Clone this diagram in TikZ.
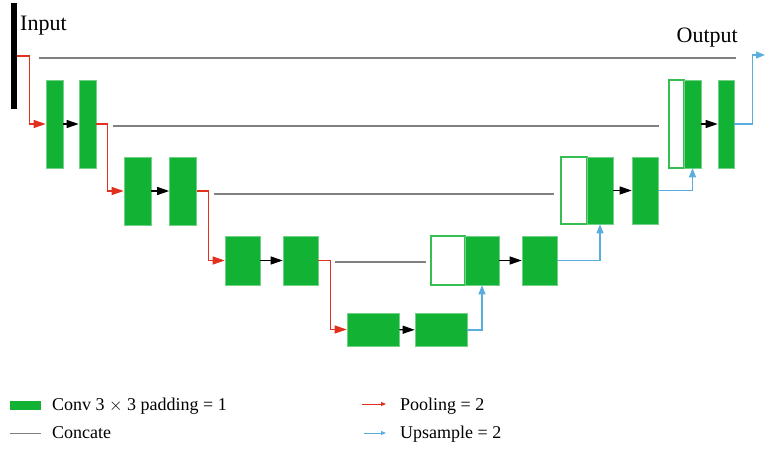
\documentclass[tikz,border=0pt]{standalone}
\usepackage{fontspec}
\setmainfont{Liberation Serif}
\usepackage{tikz}
\usetikzlibrary{arrows.meta}
\definecolor{convgreen}{RGB}{18,178,52}
\definecolor{poolred}{RGB}{226,48,30}
\definecolor{upblue}{RGB}{90,174,222}
\definecolor{catgray}{RGB}{128,128,128}

\begin{document}
\begin{tikzpicture}[x=1pt,y=-1pt,
  conv/.style={draw=convgreen!60!white,line width=0.6pt,fill=convgreen,inner sep=0pt},
  skip/.style={draw=convgreen!85!white,line width=1.3pt,fill=white,inner sep=0pt},
  pool/.style={poolred,line width=1.1pt,-{Triangle[length=12pt,width=8pt]}},
  up/.style={upblue,line width=1.1pt,-{Triangle[length=9pt,width=7pt]}},
  fwd/.style={black,line width=1.1pt,-{Triangle[length=12pt,width=8pt]}},
  cat/.style={catgray,line width=1.4pt},
  txt/.style={font=\fontsize{18}{20}\selectfont,inner sep=0pt},
  bigtxt/.style={font=\fontsize{22}{24}\selectfont,inner sep=0pt}]
\useasboundingbox (0,0) rectangle (765,449);
\node[fill=black,inner sep=0pt,minimum width=6,minimum height=106] (inp) at (14,56) {};
\node[bigtxt,anchor=base west] (intext) at (20,31) {Input};
\node[bigtxt,anchor=base east] (outtext) at (738,43) {Output};
\node[conv,minimum width=17,minimum height=88] (e1a) at (54.5,124) {};
\node[conv,minimum width=17,minimum height=88] (e1b) at (87.5,124) {};
\node[conv,minimum width=27,minimum height=68] (e2a) at (137.5,191) {};
\node[conv,minimum width=27,minimum height=68] (e2b) at (183,191) {};
\node[conv,minimum width=35,minimum height=49] (e3a) at (242.5,260.5) {};
\node[conv,minimum width=35,minimum height=49] (e3b) at (300.5,260.5) {};
\node[conv,minimum width=52,minimum height=33] (b4a) at (373,329.5) {};
\node[conv,minimum width=52,minimum height=33] (b4b) at (441,330) {};
\node[skip,minimum width=34,minimum height=49] (d3w) at (448,260.5) {};
\node[conv,minimum width=34,minimum height=49] (d3g) at (482,260.5) {};
\node[conv,minimum width=35,minimum height=49] (d3b) at (539.5,260.5) {};
\node[skip,minimum width=26,minimum height=67] (d2w) at (574,190.5) {};
\node[conv,minimum width=26,minimum height=67] (d2g) at (600,190.5) {};
\node[conv,minimum width=26,minimum height=67] (d2b) at (645,190.5) {};
\node[skip,minimum width=15,minimum height=88] (d1w) at (676.5,124) {};
\node[conv,minimum width=17,minimum height=88] (d1g) at (692.5,124) {};
\node[conv,minimum width=16,minimum height=88] (d1b) at (726,124) {};
\coordinate (out) at (765,55);
\draw[cat] ([shift={(22,2)}]inp.east) -- ([shift={(2,-66)}]d1b.east);
\draw[cat] ([shift={(17,2)}]e1b.east) -- ([shift={(-9,2)}]d1w.west);
\draw[cat] ([shift={(17,3)}]e2b.east) -- ([shift={(-6,3.5)}]d2w.west);
\draw[cat] ([shift={(17,1.5)}]e3b.east) -- ([shift={(-4,1.5)}]d3w.west);
\draw[pool] (inp.east) -- ++(12,0) |- (e1a.west);
\draw[pool] (e1b.east) -- ++(11,0) |- (e2a.west);
\draw[pool] (e2b.east) -- ++(12,0) |- (e3a.west);
\draw[pool] (e3b.east) -- ++(12,0) |- (b4a.west);
\draw[fwd] (e1a) -- (e1b);
\draw[fwd] (e2a) -- (e2b);
\draw[fwd] (e3a) -- (e3b);
\draw[fwd] (b4a) -- (b4b);
\draw[fwd] (d3g) -- (d3b);
\draw[fwd] (d2g) -- (d2b);
\draw[fwd] (d1g) -- (d1b);
\draw[up] (b4b.east) -| (d3g.south);
\draw[up] (d3b.east) -| (d2g.south);
\draw[up] (d2b.east) -| (d1g.south);
\draw[up] (d1b.east) -- ++(18,0) |- (out);
\node[fill=convgreen,inner sep=0pt,minimum width=31,minimum height=9] (lconv) at (25.5,405.5) {};
\node[txt,anchor=base west] (tconv) at (52,410) {Conv 3 $\times$ 3 padding = 1};
\coordinate (lcat1) at (10,433);
\coordinate (lcat2) at (41,433);
\draw[cat,line width=1pt] (lcat1) -- (lcat2);
\node[txt,anchor=base west] (tcat) at (52,438) {Concate};
\coordinate (lpool1) at (362,404);
\coordinate (lpool2) at (386,404);
\draw[poolred,line width=0.9pt,-{Triangle[length=5pt,width=4pt]}] (lpool1) -- (lpool2);
\node[txt,anchor=base west] (tpool) at (400,410) {Pooling = 2};
\coordinate (lup1) at (364,433);
\coordinate (lup2) at (386,433);
\draw[upblue,line width=0.9pt,-{Triangle[length=5pt,width=4pt]}] (lup1) -- (lup2);
\node[txt,anchor=base west] (tup) at (400,438) {Upsample = 2};
\end{tikzpicture}
\end{document}
